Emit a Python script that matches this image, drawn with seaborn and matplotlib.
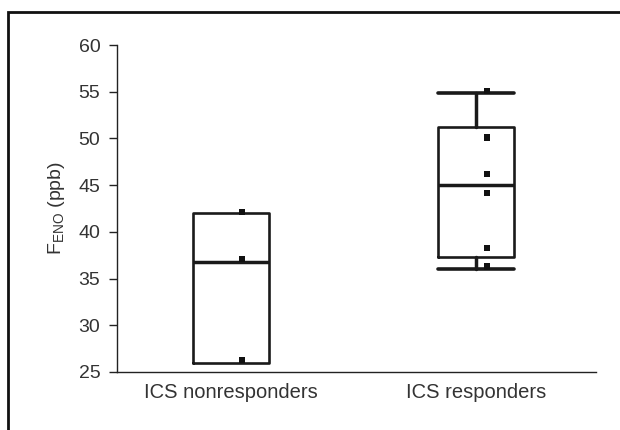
import numpy as np
import pandas as pd
import matplotlib
matplotlib.use("Agg")
import matplotlib.pyplot as plt
import seaborn as sns
from matplotlib.patches import Rectangle

# ---- data ----
groups = ["ICS nonresponders", "ICS responders"]
# box summary: whisker low, Q1, median, Q3, whisker high
whislo = [26.0, 36.0]
q1 = [26.0, 37.3]
med = [36.8, 45.0]
q3 = [42.0, 51.2]
whishi = [42.0, 54.9]
# individual points
nonresp_pts = [42.1, 37.1, 26.3]
resp_pts = [55.1, 50.1, 46.2, 44.2, 38.3, 36.3]
yticks = [25, 30, 35, 40, 45, 50, 55, 60]

sns.set_theme(style="white")
plt.rcParams["font.family"] = ["Liberation Sans", "DejaVu Sans"]

fig = plt.figure(figsize=(6.2, 4.3), dpi=100)
ax = fig.add_axes([117/620, 1-372/430, (596-117)/620, (372-45)/430])

stats = []
for i, g in enumerate(groups):
    stats.append(dict(label=g, whislo=whislo[i], q1=q1[i], med=med[i],
                      q3=q3[i], whishi=whishi[i], fliers=[]))
bp = ax.bxp(stats, positions=[0, 1], widths=0.31, showfliers=False,
            patch_artist=False, capwidths=0.31,
            boxprops=dict(color="#1a1a1a", linewidth=1.9),
            medianprops=dict(color="#1a1a1a", linewidth=2.5),
            whiskerprops=dict(color="#1a1a1a", linewidth=2.5),
            capprops=dict(color="#1a1a1a", linewidth=2.6))
# first group has no whiskers/caps beyond the box
for art in bp["caps"][0:2] + bp["whiskers"][0:2]:
    art.set_visible(False)

pts = pd.DataFrame({
    "group": [groups[0]] * len(nonresp_pts) + [groups[1]] * len(resp_pts),
    "value": nonresp_pts + resp_pts,
})
pts["pos"] = pts["group"].map({groups[0]: 0.045, groups[1]: 1.045})
sns.scatterplot(data=pts, x="pos", y="value", marker="s", s=20,
                color="#111111", edgecolor="none", ax=ax, zorder=5)

ax.set_xlim(-0.465, 1.49)
ax.set_ylim(25, 60)
ax.set_yticks(yticks)
ax.set_yticklabels([str(t) for t in yticks])
ax.set_xticks([0, 1])
ax.set_xticklabels(groups)
ax.set_xlabel("")
ax.set_ylabel(r"F$_{\mathregular{ENO}}$ (ppb)", fontsize=14, color="#333333", labelpad=8)

for s in ["top", "right"]:
    ax.spines[s].set_visible(False)
for s in ["left", "bottom"]:
    ax.spines[s].set_color("#222222")
    ax.spines[s].set_linewidth(1.0)
ax.tick_params(axis="y", direction="out", length=6, width=1, color="#222222",
               labelsize=14, labelcolor="#333333", left=True, pad=6)
ax.tick_params(axis="x", length=0, labelsize=14.5, labelcolor="#333333", pad=8)

# outer frame (left and top edges visible, others cropped)
fig.patches.append(Rectangle((8/620, -0.2), 1.2, (430-12)/430 + 0.2,
                             transform=fig.transFigure, fill=False,
                             edgecolor="#111111", linewidth=2.0))

fig.savefig("out.png", dpi=100)
